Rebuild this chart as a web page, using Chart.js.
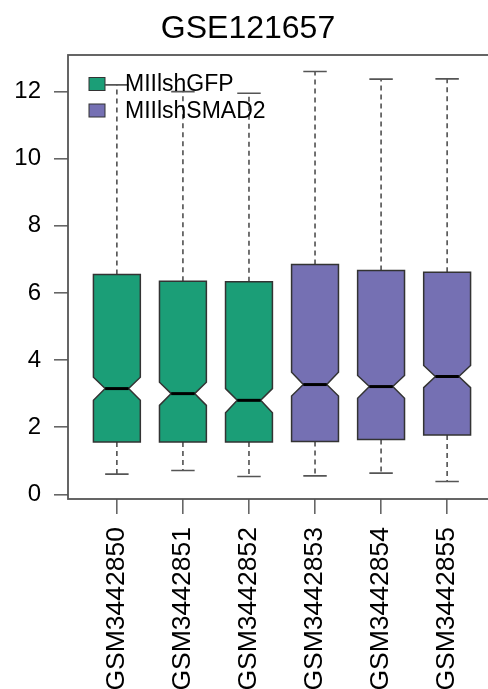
<!DOCTYPE html>
<html>
<head>
<meta charset="utf-8">
<script src="https://cdn.jsdelivr.net/npm/chart.js@4.4.0/dist/chart.umd.min.js"></script>
<style>
  html, body { margin: 0; padding: 0; background: #fff; overflow: hidden; }
  #wrap { width: 564px; height: 689px; }
</style>
</head>
<body>
<div id="wrap"><canvas id="boxChart" width="564" height="689"></canvas></div>
<script>
// Sample names and groups
const samples = ["GSM3442850", "GSM3442851", "GSM3442852", "GSM3442853", "GSM3442854", "GSM3442855"];
const groups = ["MIIlshGFP", "MIIlshGFP", "MIIlshGFP", "MIIlshSMAD2", "MIIlshSMAD2", "MIIlshSMAD2"];
const groupNames = ["MIIlshGFP", "MIIlshSMAD2"];
const groupColors = ["#1b9e77", "#7570b3"];

// Box statistics
const whiskerLow  = [0.60, 0.71, 0.53, 0.55, 0.63, 0.38];
const q1          = [1.56, 1.56, 1.56, 1.57, 1.63, 1.77];
const notchLow    = [2.80, 2.65, 2.43, 2.93, 2.86, 3.18];
const median      = [3.15, 3.00, 2.80, 3.27, 3.21, 3.51];
const notchHigh   = [3.49, 3.34, 3.15, 3.64, 3.54, 3.84];
const q3          = [6.55, 6.35, 6.33, 6.85, 6.67, 6.62];
const whiskerHigh = [12.20, 12.00, 11.95, 12.60, 12.37, 12.38];

const yTicks = [0, 2, 4, 6, 8, 10, 12];

const FONT = "'Liberation Sans', Arial, Helvetica, sans-serif";

// draws the notched boxes, whiskers, frame and legend
const boxPlugin = {
    id: 'notchedBoxes',
    afterDatasetsDraw(chart) {
        const ctx = chart.ctx;
        const xs = chart.scales.x;
        const ys = chart.scales.y;
        const area = chart.chartArea;

        ctx.save();
        samples.forEach((name, i) => {
            const cx = xs.getPixelForValue(i + 1);
            const hw = xs.getPixelForValue(i + 1 + 0.355) - cx;
            const py = v => ys.getPixelForValue(v);
            const col = groupColors[groupNames.indexOf(groups[i])];

            // whiskers
            ctx.strokeStyle = '#444';
            ctx.lineWidth = 1.5;
            ctx.setLineDash([5, 4]);
            ctx.beginPath();
            ctx.moveTo(cx, py(q3[i]));
            ctx.lineTo(cx, py(whiskerHigh[i]));
            ctx.moveTo(cx, py(q1[i]));
            ctx.lineTo(cx, py(whiskerLow[i]));
            ctx.stroke();
            ctx.setLineDash([]);
            ctx.lineWidth = 1.6;
            ctx.strokeStyle = '#555';
            ctx.beginPath();
            ctx.moveTo(cx - hw / 2, py(whiskerHigh[i]));
            ctx.lineTo(cx + hw / 2, py(whiskerHigh[i]));
            ctx.moveTo(cx - hw / 2, py(whiskerLow[i]));
            ctx.lineTo(cx + hw / 2, py(whiskerLow[i]));
            ctx.stroke();

            // notched box
            ctx.beginPath();
            ctx.moveTo(cx - hw, py(q1[i]));
            ctx.lineTo(cx - hw, py(notchLow[i]));
            ctx.lineTo(cx - hw / 2, py(median[i]));
            ctx.lineTo(cx - hw, py(notchHigh[i]));
            ctx.lineTo(cx - hw, py(q3[i]));
            ctx.lineTo(cx + hw, py(q3[i]));
            ctx.lineTo(cx + hw, py(notchHigh[i]));
            ctx.lineTo(cx + hw / 2, py(median[i]));
            ctx.lineTo(cx + hw, py(notchLow[i]));
            ctx.lineTo(cx + hw, py(q1[i]));
            ctx.closePath();
            ctx.fillStyle = col;
            ctx.fill();
            ctx.strokeStyle = '#333';
            ctx.lineWidth = 1.5;
            ctx.stroke();

            // median
            ctx.strokeStyle = '#000';
            ctx.lineWidth = 3;
            ctx.beginPath();
            ctx.moveTo(cx - hw / 2, py(median[i]));
            ctx.lineTo(cx + hw / 2, py(median[i]));
            ctx.stroke();
        });

        // frame
        ctx.strokeStyle = '#555';
        ctx.lineWidth = 1.8;
        ctx.strokeRect(area.left, area.top, area.right - area.left, area.bottom - area.top);

        // legend (no box)
        ctx.font = '23px ' + FONT;
        ctx.textBaseline = 'middle';
        ctx.textAlign = 'left';
        groupNames.forEach((g, k) => {
            const ly = area.top + 29 + k * 26.5;
            ctx.fillStyle = groupColors[k];
            ctx.fillRect(area.left + 21, ly - 6.5, 16, 13);
            ctx.strokeStyle = '#333';
            ctx.lineWidth = 1;
            ctx.strokeRect(area.left + 21, ly - 6.5, 16, 13);
            ctx.fillStyle = '#000';
            ctx.fillText(g, area.left + 57, ly + 1);
        });
        ctx.restore();
    }
};

const ctx = document.getElementById('boxChart').getContext('2d');
const chart = new Chart(ctx, {
    type: 'scatter',
    data: {
        datasets: groupNames.map((g, k) => ({
            label: g,
            data: samples.map((s, i) => groups[i] === g ? { x: i + 1, y: median[i] } : null).filter(p => p),
            pointRadius: 0,
            pointHoverRadius: 0,
            backgroundColor: groupColors[k],
            borderColor: groupColors[k]
        }))
    },
    options: {
        responsive: false,
        animation: false,
        layout: { padding: { left: 0, right: 68, top: 0, bottom: 0 } },
        plugins: {
            legend: { display: false },
            tooltip: { enabled: false },
            title: {
                display: true,
                text: 'GSE121657',
                color: '#000',
                font: { family: FONT, size: 32, weight: 'normal', lineHeight: 1.2 },
                padding: { top: 10, bottom: 6.6 }
            }
        },
        scales: {
            x: {
                type: 'linear',
                min: 0.26,
                max: 6.74,
                afterBuildTicks: scale => { scale.ticks = samples.map((s, i) => ({ value: i + 1 })); },
                afterFit: scale => { scale.height = 190; },
                grid: { drawOnChartArea: false, drawTicks: true, tickLength: 15, tickColor: '#666', lineWidth: 1.6 },
                border: { display: false },
                ticks: {
                    autoSkip: false,
                    maxRotation: 90,
                    minRotation: 90,
                    padding: 13,
                    color: '#000',
                    font: { family: FONT, size: 26.5 },
                    callback: v => samples[v - 1]
                }
            },
            y: {
                min: -0.14,
                max: 13.09,
                afterBuildTicks: scale => { scale.ticks = yTicks.map(v => ({ value: v })); },
                afterFit: scale => { scale.width = 68; },
                grid: { drawOnChartArea: false, drawTicks: true, tickLength: 14, tickColor: '#666', lineWidth: 1.6 },
                border: { display: false },
                ticks: {
                    padding: 13,
                    color: '#000',
                    font: { family: FONT, size: 24 },
                    callback: v => String(v)
                }
            }
        }
    },
    plugins: [boxPlugin]
});
</script>
</body>
</html>
